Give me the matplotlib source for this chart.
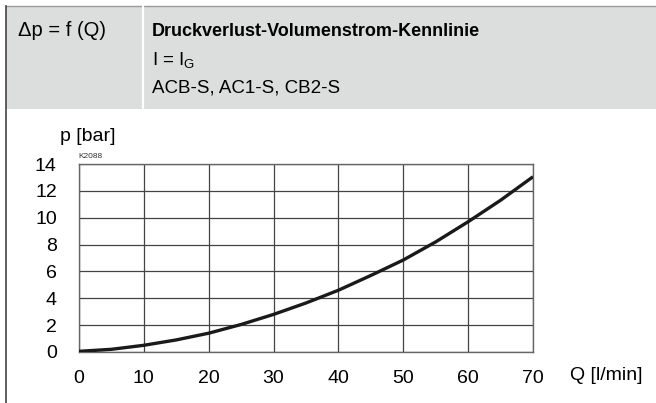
import matplotlib
matplotlib.use("Agg")
import matplotlib.pyplot as plt
from matplotlib.patches import Rectangle
from matplotlib.lines import Line2D

# curve
flow = [0, 5, 10, 15, 20, 25, 30, 35, 40, 45, 50, 55, 60, 65, 70]
pressure = [0.05, 0.2, 0.5, 0.9, 1.4, 2.05, 2.8, 3.65, 4.6, 5.7, 6.85, 8.2, 9.7, 11.3, 13.05]

x_ticks = [0, 10, 20, 30, 40, 50, 60, 70]
y_ticks = [0, 2, 4, 6, 8, 10, 12, 14]

W, H = 656, 403


def main():
    plt.rcParams['font.family'] = ['Liberation Sans', 'DejaVu Sans']
    head_font = ['Liberation Sans', 'DejaVu Sans']

    fig = plt.figure(figsize=(W / 100, H / 100), dpi=100)

    # header band
    fig.patches.append(Rectangle((6 / W, 1 - 109 / H), 1, 103 / H,
                                 transform=fig.transFigure, facecolor='#dcdddd',
                                 edgecolor='none', zorder=0))
    fig.lines.append(Line2D([6 / W, 1], [1 - 6 / H, 1 - 6 / H], transform=fig.transFigure,
                            color='#9a9a9a', lw=1))
    fig.lines.append(Line2D([143 / W, 143 / W], [1 - 6 / H, 1 - 109 / H], transform=fig.transFigure,
                            color='white', lw=1.6))
    fig.lines.append(Line2D([6 / W, 6 / W], [0, 1 - 6 / H], transform=fig.transFigure,
                            color='#444444', lw=1.2))

    fig.text(18 / W, 1 - 31 / H, 'Δp = f (Q)', family=head_font, fontsize=14.5, va='center')
    fig.text(152 / W, 1 - 31 / H, 'Druckverlust-Volumenstrom-Kennlinie', family=head_font,
             fontsize=13, fontweight='bold', va='center')
    fig.text(152 / W, 1 - 61 / H, r'I = I$_{\mathregular{G}}$', family=head_font, fontsize=13.5, va='center')
    fig.text(152 / W, 1 - 88 / H, 'ACB-S, AC1-S, CB2-S', family=head_font, fontsize=13.5, va='center')

    ax = fig.add_axes([79 / W, 1 - 352 / H, 454 / W, 188 / H])
    ax.plot(flow, pressure, color='#1a1a1a', lw=2.4, solid_capstyle='butt', zorder=3)
    ax.set_xlim(0, 70)
    ax.set_ylim(0, 14)
    ax.set_xticks(x_ticks)
    ax.set_yticks(y_ticks)
    ax.grid(True, color='#444444', lw=0.9)
    ax.tick_params(length=0, labelsize=14, pad=13)
    ax.tick_params(axis='y', pad=16)
    for s in ax.spines.values():
        s.set_color('#666666')
        s.set_linewidth(1)

    fig.text(88 / W, 1 - 136 / H, 'p [bar]', fontsize=14, ha='center', va='center')
    fig.text(78 / W, 1 - 157 / H, 'K2088', fontsize=6, ha='left', va='center', color='#333333')
    fig.text(570 / W, 1 - 375 / H, 'Q [l/min]', fontsize=14, ha='left', va='center')

    fig.savefig('out.png', dpi=100)
    plt.close(fig)


if __name__ == "__main__":
    main()
